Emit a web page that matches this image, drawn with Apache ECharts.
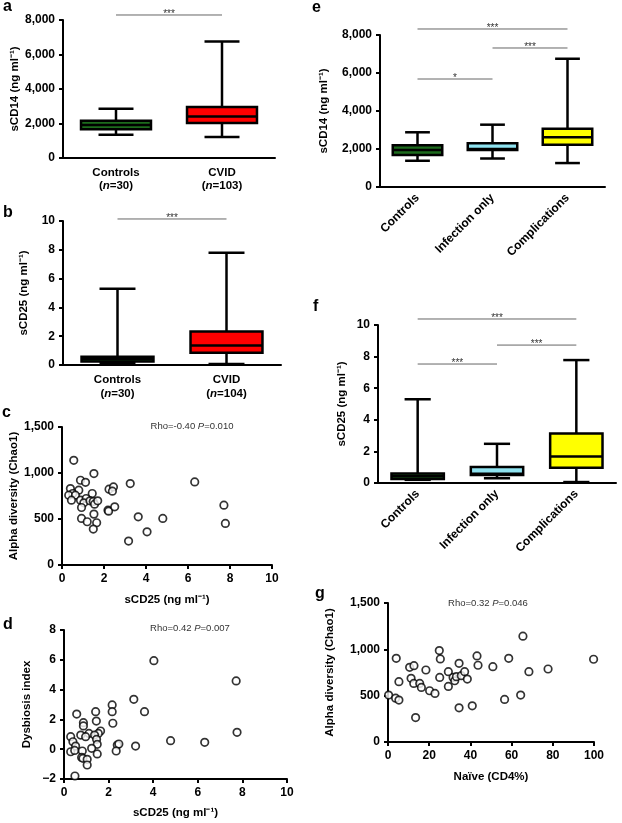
<!DOCTYPE html>
<html>
<head>
<meta charset="utf-8">
<title>sCD14 / sCD25 in CVID</title>
<script src="https://cdn.jsdelivr.net/npm/echarts@6.0.0/dist/echarts.min.js"></script>
<style>
  html, body { margin: 0; padding: 0; background: #fff; }
  #chart { width: 622px; height: 823px; }
</style>
</head>
<body>
<div id="chart"></div>
<script>
const FONT = 'Liberation Sans, Arial, sans-serif';

// groups
const groupsAB = ['Controls', 'CVID'];
const nCountsA = [30, 103];
const nCountsB = [30, 104];
const groupsEF = ['Controls', 'Infection only', 'Complications'];

// box stats, each row: [min, q1, median, q3, max]
const sCD14ByGroup = [[1350, 1660, 1920, 2160, 2850], [1220, 2030, 2400, 2950, 6750]];
const sCD25ByGroup = [[0.16, 0.25, 0.42, 0.58, 5.3], [0.07, 0.85, 1.36, 2.33, 7.8]];
const sCD14BySubgroup = [[1380, 1680, 1950, 2200, 2880], [1500, 1950, 2000, 2300, 3280], [1260, 2230, 2620, 3060, 6750]];
const sCD25BySubgroup = [[0.2, 0.26, 0.42, 0.6, 5.3], [0.3, 0.5, 0.58, 1.02, 2.48], [0.06, 0.97, 1.68, 3.14, 7.78]];

// significance bars: [fromGroup, toGroup, height in axis units]
const sigA = [[0, 1, 8290]];
const sigAStars = ['***'];
const sigB = [[0, 1, 10.14]];
const sigBStars = ['***'];
const sigE = [[0, 2, 8316], [1, 2, 7316], [0, 1, 5684]];
const sigEStars = ['***', '***', '*'];
const sigF = [[0, 2, 10.38], [1, 2, 8.73], [0, 1, 7.53]];
const sigFStars = ['***', '***', '***'];

// panel c: sCD25 vs Chao1
const cSCD25 = [0.56, 1.52, 0.88, 1.12, 0.40, 0.80, 0.51, 0.32, 0.64, 0.45, 1.44, 0.88, 1.15, 1.04, 1.33, 1.49, 1.55, 1.70, 0.93, 2.24,
  2.45, 2.40, 2.19, 2.22, 2.51, 3.25, 0.93, 1.20, 1.52, 1.65, 1.49, 3.63, 4.80, 4.05, 3.17, 6.32, 7.71, 7.78];
const cChao1 = [1138, 994, 921, 899, 831, 813, 777, 759, 759, 705, 777, 705, 723, 676, 698, 690, 661, 698, 625, 824,
  849, 802, 596, 585, 632, 885, 506, 470, 553, 459, 390, 524, 506, 361, 260, 903, 650, 452];

// panel d: sCD25 vs dysbiosis index
const dSCD25 = [4.03, 7.72, 7.76, 3.13, 3.61, 2.16, 2.16, 2.19, 1.42, 1.45, 0.57, 0.87, 0.87, 1.64, 1.54, 1.12, 0.75, 0.97, 0.30, 1.37,
  1.46, 0.40, 1.49, 1.24, 0.52, 0.30, 0.48, 0.82, 1.49, 0.79, 0.85, 1.04, 1.04, 0.49, 2.39, 2.46, 2.34, 3.21, 4.78, 6.31];
const dIndex = [5.94, 4.58, 1.13, 3.35, 2.52, 2.97, 2.52, 1.74, 2.52, 1.89, 2.36, 1.78, 1.56, 1.22, 1.06, 1.06, 0.95, 0.84, 0.84, 0.95,
  0.66, 0.50, 0.33, 0.06, 0.21, -0.17, -0.08, -0.12, -0.32, -0.55, -0.61, -0.68, -1.06, -1.80, 0.28, 0.35, -0.12, 0.21, 0.57, 0.46];

// panel g: naive CD4% vs Chao1
const gNaive = [0.3, 3.7, 5.3, 5.3, 4.0, 10.5, 12.6, 11.2, 12.5, 13.4, 15.4, 16.2, 18.4, 20.2, 22.8, 25.1, 24.9, 25.4, 29.3, 29.3,
  31.6, 32.4, 33.2, 35.6, 34.5, 37.2, 38.5, 34.5, 40.9, 43.2, 43.7, 50.9, 56.6, 58.6, 64.4, 65.5, 68.4, 77.7, 99.8];
const gChao1 = [506, 473, 452, 651, 903, 806, 824, 687, 632, 264, 632, 589, 777, 553, 524, 697, 987, 896, 759, 600,
  697, 661, 705, 716, 849, 759, 679, 369, 390, 929, 828, 813, 459, 903, 506, 1142, 759, 788, 893];

const boxColorsAB = ['#1d6b1d', '#ff0000'];
const boxColorsEF = ['#1d6b1d', '#8fe3f0', '#ffff00'];

const chart = echarts.init(document.getElementById('chart'));

const thick = { color: '#000', width: 2 };
const tickLabel = { color: '#000', fontSize: 12, fontWeight: 'bold', fontFamily: FONT, margin: 8 };
const nameStyle = { color: '#000', fontSize: 11.5, fontWeight: 'bold', fontFamily: FONT };
const comma = v => v.toLocaleString('en-US').replace('-', '\u2212');

function valueAxis(gridIndex, min, max, interval, name, nameGap, fmt) {
  return {
    type: 'value', gridIndex, min, max, interval,
    name, nameLocation: 'middle', nameGap, nameTextStyle: nameStyle,
    axisLine: { show: true, onZero: false, lineStyle: thick },
    axisTick: { show: true, length: 4, lineStyle: thick },
    axisLabel: Object.assign({}, tickLabel, { formatter: fmt || comma }),
    splitLine: { show: false },
  };
}

function groupAxis(gridIndex, groups, counts, lh) {
  return {
    type: 'category', gridIndex, data: groups,
    axisLine: { onZero: false, lineStyle: thick },
    axisTick: { alignWithLabel: true, length: 4, lineStyle: thick },
    axisLabel: {
      interval: 0, margin: 8, lineHeight: lh,
      formatter: (v, i) => `{b|${v}}\n{b|(}{i|n}{b|=${counts[i]})}`,
      rich: {
        b: { fontSize: 11.5, fontWeight: 'bold', fontFamily: FONT, color: '#000', lineHeight: lh },
        i: { fontSize: 11.5, fontWeight: 'bold', fontStyle: 'italic', fontFamily: FONT, color: '#000', lineHeight: lh },
      },
    },
  };
}

function rotatedAxis(gridIndex, groups) {
  return {
    type: 'category', gridIndex, data: groups,
    axisLine: { onZero: false, lineStyle: thick },
    axisTick: { alignWithLabel: true, length: 4, lineStyle: thick },
    axisLabel: Object.assign({}, tickLabel, { interval: 0, rotate: 45, margin: 9 }),
  };
}

function boxRenderer(fills) {
  return function (params, api) {
    const i = api.value(0);
    const lo = api.coord([i, api.value(1)]);
    const q1 = api.coord([i, api.value(2)]);
    const md = api.coord([i, api.value(3)]);
    const q3 = api.coord([i, api.value(4)]);
    const hi = api.coord([i, api.value(5)]);
    const bw = api.size([1, 0])[0] * 0.66;
    const cx = lo[0];
    const seg = (x1, y1, x2, y2) => ({ type: 'line', shape: { x1, y1, x2, y2 }, style: { stroke: '#000', lineWidth: 2.5 } });
    return {
      type: 'group',
      children: [
        seg(cx, hi[1], cx, q3[1]),
        seg(cx, q1[1], cx, lo[1]),
        seg(cx - bw / 4, hi[1], cx + bw / 4, hi[1]),
        seg(cx - bw / 4, lo[1], cx + bw / 4, lo[1]),
        { type: 'rect', shape: { x: cx - bw / 2, y: q3[1], width: bw, height: q1[1] - q3[1] },
          style: { fill: fills[params.dataIndex], stroke: '#000', lineWidth: 2.5 } },
        seg(cx - bw / 2, md[1], cx + bw / 2, md[1]),
      ],
    };
  };
}

function sigRenderer(stars) {
  return function (params, api) {
    const p0 = api.coord([api.value(0), api.value(2)]);
    const p1 = api.coord([api.value(1), api.value(2)]);
    return {
      type: 'group',
      children: [
        { type: 'line', shape: { x1: p0[0], y1: p0[1], x2: p1[0], y2: p1[1] }, style: { stroke: '#666', lineWidth: 1 } },
        { type: 'text', x: (p0[0] + p1[0]) / 2, y: p0[1] - 1,
          style: { text: stars[params.dataIndex], fill: '#333', fontSize: 10, fontFamily: FONT, align: 'center', verticalAlign: 'middle' } },
      ],
    };
  };
}

function boxSeries(idx, stats, fills) {
  return {
    type: 'custom', xAxisIndex: idx, yAxisIndex: idx,
    data: stats.map((s, i) => [i].concat(s)),
    encode: { x: 0, y: [1, 2, 3, 4, 5] },
    renderItem: boxRenderer(fills),
  };
}

function sigSeries(idx, bars, stars) {
  return {
    type: 'custom', xAxisIndex: idx, yAxisIndex: idx,
    data: bars, encode: { x: [0, 1], y: 2 },
    renderItem: sigRenderer(stars),
  };
}

function scatterSeries(idx, xs, ys) {
  return {
    type: 'scatter', xAxisIndex: idx, yAxisIndex: idx,
    data: xs.map((x, i) => [x, ys[i]]),
    symbol: 'circle', symbolSize: 7.5,
    itemStyle: { color: '#fff', borderColor: '#000', borderWidth: 1.7 },
  };
}

function letter(t, x, baseline) {
  return { type: 'text', x, y: baseline - 5.5,
    style: { text: t, fontSize: 16, fontWeight: 'bold', fontFamily: FONT, fill: '#000', verticalAlign: 'middle' } };
}

function rho(text, x, y) {
  return { type: 'text', x, y,
    style: { text, fontSize: 9.5, fontFamily: FONT, fill: '#333', align: 'center', verticalAlign: 'middle',
      rich: { i: { fontStyle: 'italic', fontSize: 9.5, fontFamily: FONT, fill: '#333' } } } };
}

const grid = [
  { left: 63, top: 20, width: 212, height: 138 },   // a
  { left: 63, top: 221, width: 218, height: 144 },  // b
  { left: 62, top: 427, width: 210, height: 138 },  // c
  { left: 64, top: 630, width: 223, height: 149 },  // d
  { left: 380, top: 35, width: 225, height: 152 },  // e
  { left: 378, top: 325, width: 238, height: 158 }, // f
  { left: 388, top: 603, width: 206, height: 139 }, // g
].map(g => Object.assign({ outerBoundsMode: 'none', containLabel: false }, g));

const scd = 'sCD25 (ng ml\u207B\u00B9)';
const scd14 = 'sCD14 (ng ml\u207B\u00B9)';

chart.setOption({
  animation: false,
  backgroundColor: '#fff',
  grid,
  xAxis: [
    groupAxis(0, groupsAB, nCountsA, 13),
    groupAxis(1, groupsAB, nCountsB, 14),
    valueAxis(2, 0, 10, 2, scd, 29),
    valueAxis(3, 0, 10, 2, scd, 28),
    rotatedAxis(4, groupsEF),
    rotatedAxis(5, groupsEF),
    valueAxis(6, 0, 100, 20, 'Na\u00EFve (CD4%)', 29),
  ],
  yAxis: [
    valueAxis(0, 0, 8000, 2000, scd14, 42),
    valueAxis(1, 0, 10, 2, scd, 33),
    valueAxis(2, 0, 1500, 500, 'Alpha diversity (Chao1)', 41),
    valueAxis(3, -2, 8, 2, 'Dysbiosis index', 31),
    valueAxis(4, 0, 8000, 2000, scd14, 50),
    valueAxis(5, 0, 10, 2, scd, 30),
    valueAxis(6, 0, 1500, 500, 'Alpha diversity (Chao1)', 52),
  ],
  series: [
    boxSeries(0, sCD14ByGroup, boxColorsAB),
    sigSeries(0, sigA, sigAStars),
    boxSeries(1, sCD25ByGroup, boxColorsAB),
    sigSeries(1, sigB, sigBStars),
    scatterSeries(2, cSCD25, cChao1),
    scatterSeries(3, dSCD25, dIndex),
    boxSeries(4, sCD14BySubgroup, boxColorsEF),
    sigSeries(4, sigE, sigEStars),
    boxSeries(5, sCD25BySubgroup, boxColorsEF),
    sigSeries(5, sigF, sigFStars),
    scatterSeries(6, gNaive, gChao1),
  ],
  graphic: [
    letter('a', 3, 12),
    letter('b', 3, 218),
    letter('c', 2, 418),
    letter('d', 3, 630),
    letter('e', 312, 13),
    letter('f', 313, 312),
    letter('g', 315, 599),
    rho('Rho=-0.40 {i|P}=0.010', 192, 426),
    rho('Rho=0.42 {i|P}=0.007', 190, 628),
    rho('Rho=0.32 {i|P}=0.046', 488, 603),
  ],
});
</script>
</body>
</html>
